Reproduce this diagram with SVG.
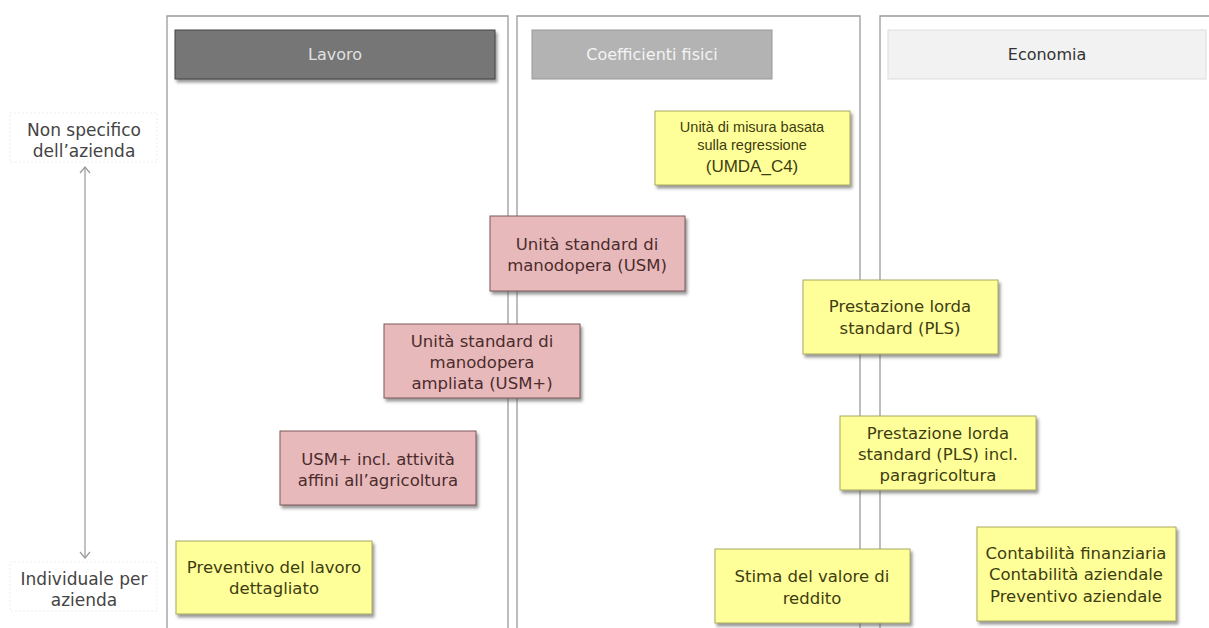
<svg xmlns="http://www.w3.org/2000/svg" width="1209" height="628" viewBox="0 0 1209 628">
<defs>
<filter id="sh" x="-10%" y="-10%" width="125%" height="135%">
<feDropShadow dx="2" dy="3" stdDeviation="1.5" flood-color="#555" flood-opacity="0.6"/>
</filter>
</defs>
<style>
.col{fill:#fff;stroke:#9a9a9a;stroke-width:1.3}
.pink{fill:#e8b9bb;stroke:#7a5a5a;stroke-width:1}
.yel{fill:#ffff99;stroke:#a8a860;stroke-width:1}
.t{font-family:"DejaVu Sans",Verdana,sans-serif;font-size:16.5px;text-anchor:middle}
.tp{fill:#4a2c2c}
.ty{fill:#3d3d12}
.ax{font-family:"DejaVu Sans",Verdana,sans-serif;font-size:17px;fill:#444;text-anchor:middle}
.hd{font-family:"DejaVu Sans",Verdana,sans-serif;font-size:16px;text-anchor:middle}
.nar{font-family:"Liberation Sans",Arial,sans-serif;text-anchor:middle;fill:#3d3d12}
.arr{fill:none;stroke:#999;stroke-width:1.2}
</style>
<rect width="1209" height="628" fill="#fff"/>
<g id="columns">
<path class="col" d="M167,640 V16 H508 V640"/>
<path class="col" d="M517,640 V16 H860 V640"/>
<path class="col" d="M880,640 V16 H1215" stroke="#c8c8c8"/>
</g>
<g id="header-lavoro">
<rect x="175" y="30" width="320" height="49" fill="#767676" stroke="#444" stroke-width="1" filter="url(#sh)"/>
<text class="hd" x="335" y="60" fill="#e0e0e0">Lavoro</text>
</g>
<g id="header-coefficienti">
<rect x="532" y="30" width="240" height="49" fill="#b3b3b3" stroke="#999" stroke-width="1"/>
<text class="hd" x="652" y="60" fill="#f4f4f4">Coefficienti fisici</text>
</g>
<g id="header-economia">
<rect x="888" y="30" width="318" height="49" fill="#f2f2f2" stroke="#ddd" stroke-width="1"/>
<text class="hd" x="1047" y="60" fill="#333">Economia</text>
</g>
<g id="axis-top">
<rect x="10" y="113" width="147" height="49" fill="#fff" stroke="#eee" stroke-dasharray="2,2"/>
<text class="ax" x="84" y="136">Non specifico</text>
<text class="ax" x="84" y="157">dell’azienda</text>
</g>
<g id="axis-bottom">
<rect x="10" y="562" width="147" height="49" fill="#fff" stroke="#eee" stroke-dasharray="2,2"/>
<text class="ax" x="84" y="585">Individuale per</text>
<text class="ax" x="84" y="606">azienda</text>
</g>
<g id="connectors">
<line x1="85" y1="167" x2="85" y2="558" stroke="#999" stroke-width="1.2"/>
<path class="arr" d="M80,173 L85,167 L90,173"/>
<path class="arr" d="M80,552 L85,558 L90,552"/>
</g>
<g id="umda">
<rect class="yel" x="655" y="111" width="195" height="74" filter="url(#sh)"/>
<text class="nar" x="752" y="132" font-size="14.5">Unità di misura basata</text>
<text class="nar" x="752" y="150" font-size="14.5">sulla regressione</text>
<text class="nar" x="752" y="172" font-size="17">(UMDA_C4)</text>
</g>
<g id="usm">
<rect class="pink" x="490" y="216" width="195" height="75" filter="url(#sh)"/>
<text class="t tp" x="587" y="250">Unità standard di</text>
<text class="t tp" x="587" y="271">manodopera (USM)</text>
</g>
<g id="usm-plus">
<rect class="pink" x="384" y="324" width="196" height="74" filter="url(#sh)"/>
<text class="t tp" x="482" y="347">Unità standard di</text>
<text class="t tp" x="482" y="368">manodopera</text>
<text class="t tp" x="482" y="389">ampliata (USM+)</text>
</g>
<g id="usm-plus-incl">
<rect class="pink" x="280" y="431" width="196" height="74" filter="url(#sh)"/>
<text class="t tp" x="378" y="465">USM+ incl. attività</text>
<text class="t tp" x="378" y="486">affini all’agricoltura</text>
</g>
<g id="preventivo-lavoro">
<rect class="yel" x="176" y="541" width="196" height="73" filter="url(#sh)"/>
<text class="t ty" x="274" y="573">Preventivo del lavoro</text>
<text class="t ty" x="274" y="594">dettagliato</text>
</g>
<g id="pls">
<rect class="yel" x="803" y="280" width="195" height="74" filter="url(#sh)"/>
<text class="t ty" x="900" y="312">Prestazione lorda</text>
<text class="t ty" x="900" y="334">standard (PLS)</text>
</g>
<g id="pls-incl">
<rect class="yel" x="840" y="416" width="196" height="74" filter="url(#sh)"/>
<text class="t ty" x="938" y="439">Prestazione lorda</text>
<text class="t ty" x="938" y="460">standard (PLS) incl.</text>
<text class="t ty" x="938" y="481">paragricoltura</text>
</g>
<g id="stima">
<rect class="yel" x="715" y="549" width="195" height="74" filter="url(#sh)"/>
<text class="t ty" x="812" y="582">Stima del valore di</text>
<text class="t ty" x="812" y="604">reddito</text>
</g>
<g id="contabilita">
<rect class="yel" x="977" y="527" width="199" height="94" filter="url(#sh)"/>
<text class="t ty" x="1076" y="559">Contabilità finanziaria</text>
<text class="t ty" x="1076" y="580">Contabilità aziendale</text>
<text class="t ty" x="1076" y="602">Preventivo aziendale</text>
</g>
</svg>
